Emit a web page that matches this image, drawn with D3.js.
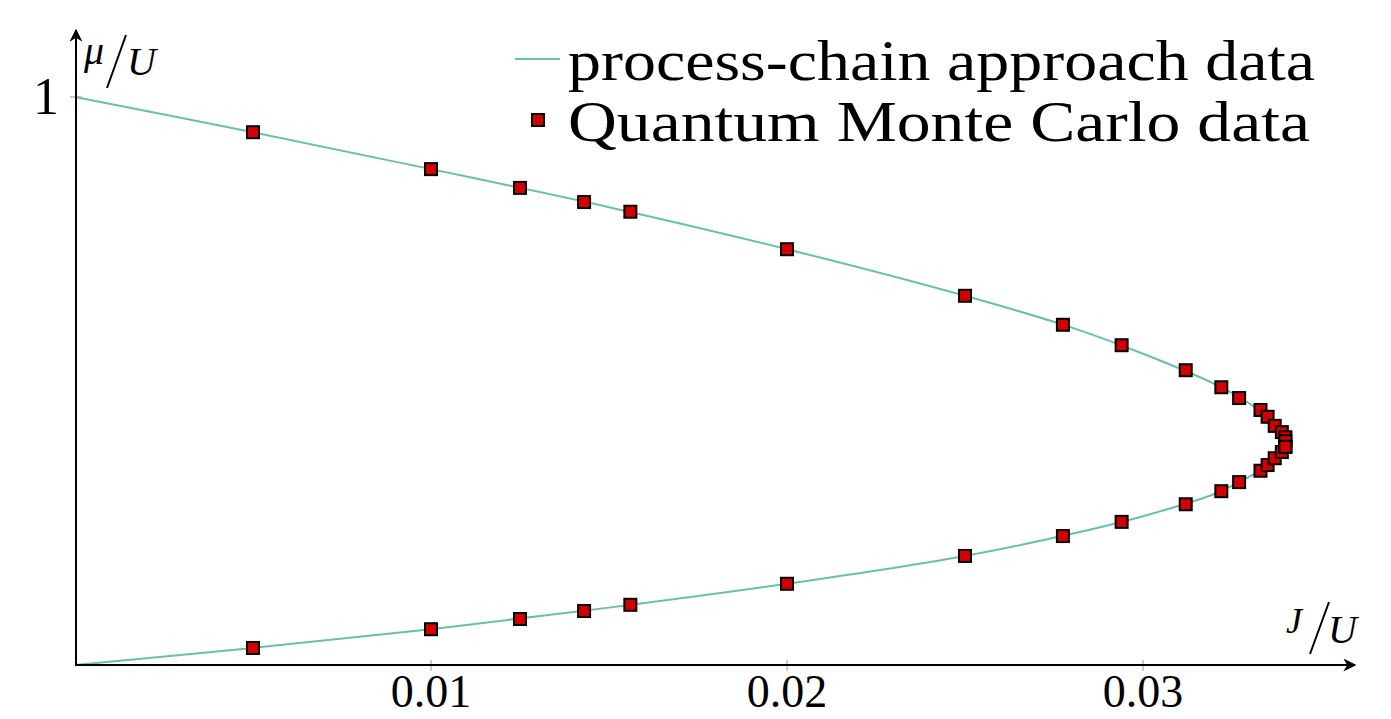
<!DOCTYPE html>
<html>
<head>
<meta charset="utf-8">
<script src="https://cdn.jsdelivr.net/npm/d3@7"></script>
<style>
	body { margin: 0; background: #fff; }
	text { font-family: "Liberation Serif", "DejaVu Serif", serif; fill: #000; }
</style>
</head>
<body>
<svg id="chart"></svg>
<script>
// QMC data points (J/U, mu/U), upper and lower branch of the Mott lobe
var qmcJ = [0.005, 0.01, 0.0125, 0.0143, 0.0156, 0.02, 0.025, 0.02775, 0.0294, 0.0312, 0.0322, 0.0327, 0.0333, 0.0335, 0.0337, 0.0339, 0.0340, 0.0340];
var qmcUpper = [0.938, 0.873, 0.840, 0.815, 0.798, 0.732, 0.650, 0.599, 0.563, 0.519, 0.489, 0.470, 0.449, 0.437, 0.421, 0.410, 0.401, 0.394];
var qmcLower = [0.030, 0.063, 0.081, 0.095, 0.106, 0.143, 0.192, 0.227, 0.252, 0.283, 0.306, 0.322, 0.342, 0.352, 0.364, 0.375, 0.384, 0.384];

// process-chain curve, read along the line from (0,1) round the tip to (0,0)
var pcaJ = [0, 0.005, 0.01, 0.015, 0.02, 0.025, 0.028, 0.030, 0.032, 0.033, 0.0337, 0.0341, 0.0337, 0.033, 0.032, 0.030, 0.028, 0.025, 0.02, 0.015, 0.01, 0.005, 0];
var pcaMu = [1, 0.938, 0.873, 0.806, 0.732, 0.650, 0.594, 0.548, 0.495, 0.460, 0.425, 0.389, 0.360, 0.332, 0.301, 0.262, 0.231, 0.192, 0.143, 0.101, 0.063, 0.030, 0];

var xTicks = [0.01, 0.02, 0.03];
var yTicks = [1];
var legendLabels = ["process-chain approach data", "Quantum Monte Carlo data"];

var width = 1391, height = 719;
var lineColor = "#66c2a5";

var svg = d3.select("#chart")
	.attr("width", width)
	.attr("height", height);

var x = d3.scaleLinear().domain([0, 0.01]).range([75, 431]);
var y = d3.scaleLinear().domain([0, 1]).range([665, 97]);

// ticks (light grey, drawn across the axis)
svg.append("g").selectAll("line").data(xTicks).enter().append("line")
	.attr("x1", d => x(d)).attr("x2", d => x(d))
	.attr("y1", 660).attr("y2", 671)
	.attr("stroke", "#9a9a9a").attr("stroke-width", 1);
svg.append("g").selectAll("line").data(yTicks).enter().append("line")
	.attr("x1", 70).attr("x2", 82)
	.attr("y1", d => y(d)).attr("y2", d => y(d))
	.attr("stroke", "#9a9a9a").attr("stroke-width", 1);

svg.append("g").selectAll("text").data(xTicks).enter().append("text")
	.attr("x", d => x(d)).attr("y", 707)
	.attr("text-anchor", "middle")
	.attr("font-size", "46px")
	.text(d => d3.format(".2f")(d));
svg.append("g").selectAll("text").data(yTicks).enter().append("text")
	.attr("x", 59).attr("y", d => y(d) + 17)
	.attr("text-anchor", "end")
	.attr("font-size", "52px")
	.text(d => d);

// curve
var line = d3.line()
	.x(d => x(d[0]))
	.y(d => y(d[1]))
	.curve(d3.curveCatmullRom.alpha(0.5));
svg.append("path")
	.datum(d3.zip(pcaJ, pcaMu))
	.attr("d", line)
	.attr("fill", "none")
	.attr("stroke", lineColor)
	.attr("stroke-width", 2);

// axes with arrows
var defs = svg.append("defs");
defs.append("marker")
	.attr("id", "arrow")
	.attr("viewBox", "0 0 10 10")
	.attr("refX", 9).attr("refY", 5)
	.attr("markerWidth", 13).attr("markerHeight", 13)
	.attr("markerUnits", "userSpaceOnUse")
	.attr("orient", "auto")
	.append("path")
	.attr("d", "M0,0 L10,5 L0,10 L3,5 Z")
	.attr("fill", "#000");

svg.append("line")
	.attr("x1", 75).attr("y1", 665).attr("x2", 1355).attr("y2", 665)
	.attr("stroke", "#000").attr("stroke-width", 2)
	.attr("marker-end", "url(#arrow)");
svg.append("line")
	.attr("x1", 76).attr("y1", 666).attr("x2", 76).attr("y2", 30)
	.attr("stroke", "#000").attr("stroke-width", 2)
	.attr("marker-end", "url(#arrow)");

// QMC markers
var pts = d3.zip(qmcJ, qmcUpper).concat(d3.zip(qmcJ, qmcLower));
svg.append("g").selectAll("rect").data(pts).enter().append("rect")
	.attr("x", d => x(d[0]) - 6)
	.attr("y", d => y(d[1]) - 6)
	.attr("width", 12).attr("height", 12)
	.attr("fill", "#d40000")
	.attr("stroke", "#000")
	.attr("stroke-width", 2);

// axis labels
var yl = svg.append("g");
yl.append("text").attr("x", 84).attr("y", 64).attr("font-size", "40px").attr("font-style", "italic").text("μ");
yl.append("line").attr("x1", 107).attr("y1", 88).attr("x2", 126).attr("y2", 35).attr("stroke", "#000").attr("stroke-width", 2);
yl.append("text").attr("x", 127).attr("y", 75).attr("font-size", "40px").attr("font-style", "italic").text("U");

var xl = svg.append("g");
xl.append("text").attr("x", 1286).attr("y", 633).attr("font-size", "36px").attr("font-style", "italic").text("J");
xl.append("line").attr("x1", 1310).attr("y1", 654).attr("x2", 1329).attr("y2", 602).attr("stroke", "#000").attr("stroke-width", 2);
xl.append("text").attr("x", 1328).attr("y", 643).attr("font-size", "40px").attr("font-style", "italic").text("U");

// legend
var legend = svg.append("g");
legend.append("line")
	.attr("x1", 515).attr("x2", 560).attr("y1", 59).attr("y2", 59)
	.attr("stroke", lineColor).attr("stroke-width", 2);
legend.append("rect")
	.attr("x", 532).attr("y", 114).attr("width", 12).attr("height", 12)
	.attr("fill", "#d40000").attr("stroke", "#000").attr("stroke-width", 2);
legend.selectAll("text").data(legendLabels).enter().append("text")
	.attr("x", 568)
	.attr("y", (d, i) => 80 + i * 61)
	.attr("font-size", "58px")
	.attr("textLength", (d, i) => i === 0 ? 747 : 742)
	.attr("lengthAdjust", "spacingAndGlyphs")
	.text(d => d);
</script>
</body>
</html>
